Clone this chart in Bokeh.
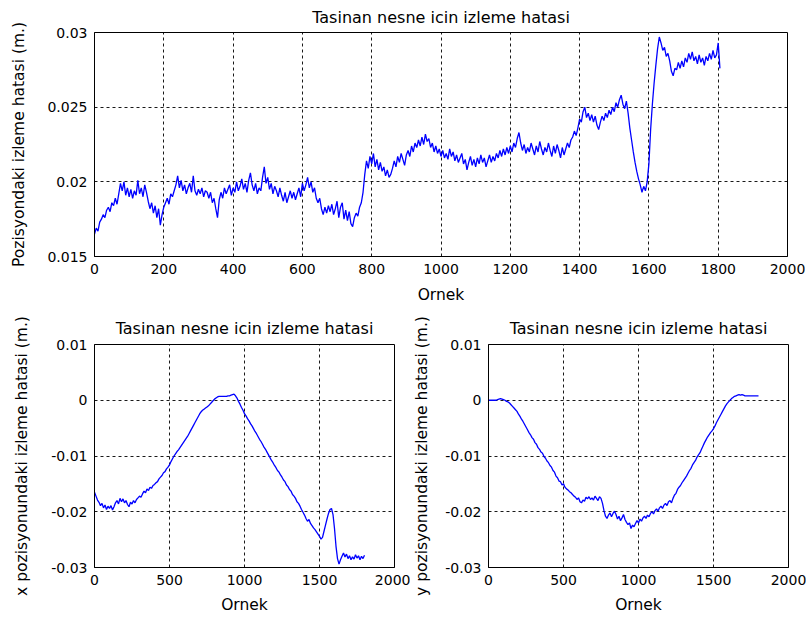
from bokeh.plotting import figure
from bokeh.layouts import column, row
from bokeh.models import Range1d, FixedTicker, CustomJSTickFormatter
from bokeh.embed import file_html
from bokeh.resources import INLINE

# ---------------- data ----------------
title_text = "Tasinan nesne icin izleme hatasi"
x_label = "Ornek"
top_ylabel = "Pozisyondaki izleme hatasi (m.)"
bl_ylabel = "x pozisyonundaki izleme hatasi (m.)"
br_ylabel = "y pozisyonundaki izleme hatasi (m.)"

top_x_ticks = [0, 200, 400, 600, 800, 1000, 1200, 1400, 1600, 1800, 2000]
top_y_ticks = [0.015, 0.02, 0.025, 0.03]
bot_x_ticks = [0, 500, 1000, 1500, 2000]
bot_y_ticks = [-0.03, -0.02, -0.01, 0, 0.01]

top_step = 5
top_err = [
    0.0165, 0.0169, 0.0167, 0.0173, 0.0175, 0.0178, 0.0176, 0.0181, 0.0183, 0.0180, 0.0186, 0.0184, 0.0189, 0.0185, 0.0192, 0.0199,
    0.0194, 0.0200, 0.0191, 0.0196, 0.0190, 0.0195, 0.0189, 0.0194, 0.0191, 0.0201, 0.0192, 0.0196, 0.0190, 0.0198, 0.0193,
    0.0187, 0.0182, 0.0186, 0.0179, 0.0184, 0.0176, 0.0182, 0.0171, 0.0178, 0.0183,
    0.0186, 0.0189, 0.0185, 0.0192, 0.0190, 0.0194, 0.0198, 0.0204, 0.0196, 0.0201, 0.0194, 0.0198,
    0.0192, 0.0196, 0.0199, 0.0193, 0.0204, 0.0194, 0.0191, 0.0195, 0.0192, 0.0196, 0.0190, 0.0194, 0.0193, 0.0189, 0.0193, 0.0186, 0.0189, 0.0182,
    0.0176, 0.0188, 0.0193, 0.0189, 0.0196, 0.0192, 0.0195, 0.0198, 0.0191, 0.0196, 0.0193, 0.0200, 0.0194, 0.0197, 0.0202, 0.0195, 0.0199, 0.0193, 0.0201, 0.0206,
    0.0198, 0.0194, 0.0199, 0.0192, 0.0196, 0.0194, 0.0203, 0.0210, 0.0199, 0.0203,
    0.0195, 0.0199, 0.0192, 0.0197, 0.0194, 0.0190, 0.0196, 0.0191, 0.0187, 0.0193, 0.0186, 0.0190, 0.0194, 0.0189, 0.0193, 0.0188, 0.0192, 0.0196, 0.0190, 0.0199,
    0.0194, 0.0198, 0.0203, 0.0196, 0.0200, 0.0193, 0.0196, 0.0189, 0.0186, 0.0189, 0.0182, 0.0178, 0.0183, 0.0179, 0.0184, 0.0180,
    0.0185, 0.0178, 0.0182, 0.0187, 0.0176, 0.0183, 0.0186, 0.0175, 0.0181, 0.0174, 0.0180, 0.0172, 0.0170, 0.0176, 0.0179, 0.0177, 0.0183, 0.0186,
    0.0193, 0.0205, 0.0214, 0.0209, 0.0217, 0.0212,
    0.0219, 0.0210, 0.0215, 0.0208, 0.0213, 0.0207, 0.0210, 0.0204, 0.0208, 0.0203, 0.0205, 0.0209,
    0.0214, 0.0210, 0.0217, 0.0213, 0.0219, 0.0215, 0.0211, 0.0218, 0.0221, 0.0217, 0.0224, 0.0220, 0.0226, 0.0223, 0.0228, 0.0224, 0.0230, 0.0225,
    0.0232, 0.0227, 0.0229, 0.0223, 0.0226, 0.0220, 0.0224, 0.0219, 0.0222, 0.0217,
    0.0221, 0.0216, 0.0219, 0.0215, 0.0222, 0.0217, 0.0220, 0.0214, 0.0218, 0.0213, 0.0216, 0.0219, 0.0212, 0.0215, 0.0208, 0.0213, 0.0217, 0.0211, 0.0215, 0.0210,
    0.0216, 0.0212, 0.0218, 0.0213, 0.0216, 0.0210, 0.0214, 0.0218, 0.0213, 0.0217, 0.0214, 0.0219, 0.0216, 0.0221, 0.0217, 0.0222, 0.0218, 0.0223, 0.0219, 0.0224,
    0.0220, 0.0226, 0.0223, 0.0229, 0.0233, 0.0226,
    0.0221, 0.0225, 0.0219, 0.0223, 0.0220, 0.0226, 0.0222, 0.0218, 0.0224, 0.0220, 0.0227, 0.0222, 0.0218, 0.0223, 0.0220, 0.0226, 0.0221, 0.0217, 0.0224, 0.0219, 0.0225, 0.0221, 0.0216, 0.0223, 0.0218, 0.0222, 0.0226, 0.0223, 0.0228, 0.0230,
    0.0234, 0.0231, 0.0236, 0.0242, 0.0240, 0.0247, 0.0250, 0.0243, 0.0246, 0.0241, 0.0245, 0.0240, 0.0244, 0.0238, 0.0235, 0.0240,
    0.0244, 0.0241, 0.0246, 0.0243, 0.0248, 0.0245, 0.0250, 0.0247, 0.0253, 0.0250, 0.0255, 0.0258, 0.0252, 0.0249, 0.0254, 0.0246,
    0.0236, 0.0228, 0.0220, 0.0213, 0.0207, 0.0202, 0.0198, 0.0193, 0.0197, 0.0194, 0.0200, 0.0212,
    0.0235, 0.0252, 0.0266, 0.0278, 0.0289, 0.0297, 0.0293, 0.0288,
    0.0290, 0.0284, 0.0286, 0.0281, 0.0274, 0.0271, 0.0276, 0.0275, 0.0280, 0.0276, 0.0281, 0.0277,
    0.0283, 0.0280, 0.0286, 0.0282, 0.0287, 0.0281, 0.0284, 0.0279, 0.0285, 0.0280, 0.0283, 0.0278, 0.0284, 0.0281, 0.0286, 0.0282, 0.0288, 0.0283, 0.0285, 0.0293, 0.0276,
]

bot_step = 10
x_err = [
    -0.0165, -0.0172, -0.0179, -0.0183, -0.0189, -0.0185, -0.0193, -0.0188, -0.0196, -0.0190,
    -0.0194, -0.0189, -0.0197, -0.0191, -0.0184, -0.0180, -0.0186, -0.0176, -0.0182, -0.0177,
    -0.0184, -0.0180, -0.0187, -0.0191, -0.0183, -0.0186, -0.0180, -0.0184, -0.0178, -0.0175,
    -0.0172, -0.0174, -0.0168, -0.0163, -0.0166, -0.0159, -0.0162, -0.0156, -0.0158, -0.0153,
    -0.0151, -0.0148, -0.0146, -0.0141, -0.0138, -0.0135, -0.0130, -0.0128, -0.0123, -0.0120,
    -0.0116, -0.0110, -0.0105, -0.0100, -0.0096, -0.0092, -0.0089, -0.0085, -0.0081, -0.0077,
    -0.0073, -0.0069, -0.0065, -0.0060, -0.0055, -0.0050, -0.0045, -0.0040, -0.0035, -0.0030,
    -0.0025, -0.0021, -0.0018, -0.0016, -0.0014, -0.0012, -0.0010, -0.0007, -0.0004, -0.0001,
    0.0002, 0.0004, 0.0006, 0.0007, 0.0007, 0.0007, 0.0007, 0.0007, 0.0007, 0.0008,
    0.0008, 0.0009, 0.0010, 0.0011, 0.0008, 0.0004, -0.0002, -0.0007, -0.0013, -0.0018,
    -0.0024, -0.0028, -0.0033, -0.0037, -0.0042, -0.0046, -0.0051, -0.0056, -0.0060, -0.0065,
    -0.0070, -0.0074, -0.0079, -0.0084, -0.0088, -0.0093, -0.0098, -0.0103, -0.0108, -0.0112,
    -0.0117, -0.0121, -0.0126, -0.0129, -0.0134, -0.0138, -0.0143, -0.0146, -0.0152, -0.0155,
    -0.0160, -0.0163, -0.0169, -0.0172, -0.0176, -0.0182, -0.0185, -0.0190, -0.0196, -0.0201,
    -0.0206, -0.0212, -0.0217, -0.0214, -0.0221, -0.0225, -0.0229, -0.0232, -0.0236, -0.0240,
    -0.0244, -0.0249, -0.0246, -0.0235, -0.0224, -0.0213, -0.0203, -0.0196, -0.0194, -0.0205,
    -0.0230, -0.0262, -0.0284, -0.0294, -0.0286, -0.0280, -0.0274, -0.0281, -0.0276, -0.0284,
    -0.0279, -0.0286, -0.0281, -0.0285, -0.0277, -0.0283, -0.0279, -0.0286, -0.0280, -0.0284,
    -0.0278,
]

y_err = [
    0.0000, 0.0000, 0.0000, 0.0000, 0.0000, 0.0000, 0.0001, 0.0002, 0.0003, 0.0002,
    0.0001, 0.0000, -0.0002, -0.0003, -0.0005, -0.0008, -0.0011, -0.0014, -0.0017, -0.0020,
    -0.0025, -0.0029, -0.0034, -0.0038, -0.0043, -0.0048, -0.0053, -0.0058, -0.0062, -0.0067,
    -0.0070, -0.0076, -0.0079, -0.0085, -0.0088, -0.0093, -0.0095, -0.0101, -0.0104, -0.0109,
    -0.0112, -0.0117, -0.0120, -0.0126, -0.0129, -0.0136, -0.0139, -0.0145, -0.0146, -0.0152,
    -0.0150, -0.0156, -0.0159, -0.0161, -0.0164, -0.0166, -0.0169, -0.0172, -0.0174, -0.0178,
    -0.0175, -0.0182, -0.0184, -0.0179, -0.0181, -0.0174, -0.0177, -0.0173, -0.0178, -0.0175,
    -0.0179, -0.0172, -0.0176, -0.0180, -0.0173, -0.0176, -0.0185, -0.0198, -0.0208, -0.0212,
    -0.0206, -0.0202, -0.0209, -0.0203, -0.0199, -0.0205, -0.0213, -0.0208, -0.0216, -0.0211,
    -0.0205, -0.0214, -0.0219, -0.0223, -0.0220, -0.0230, -0.0224, -0.0227, -0.0221, -0.0216,
    -0.0220, -0.0213, -0.0217, -0.0211, -0.0208, -0.0212, -0.0206, -0.0209, -0.0203, -0.0200,
    -0.0204, -0.0198, -0.0195, -0.0199, -0.0193, -0.0190, -0.0194, -0.0188, -0.0185, -0.0189,
    -0.0182, -0.0180, -0.0184, -0.0176, -0.0170, -0.0167, -0.0160, -0.0156, -0.0153, -0.0148,
    -0.0144, -0.0140, -0.0136, -0.0131, -0.0126, -0.0122, -0.0116, -0.0112, -0.0108, -0.0102,
    -0.0098, -0.0094, -0.0088, -0.0082, -0.0076, -0.0071, -0.0066, -0.0062, -0.0058, -0.0055,
    -0.0051, -0.0046, -0.0040, -0.0035, -0.0030, -0.0025, -0.0020, -0.0015, -0.0010, -0.0006,
    -0.0003, 0.0000, 0.0003, 0.0005, 0.0007, 0.0008, 0.0009, 0.0010, 0.0009, 0.0010,
    0.0009, 0.0008, 0.0008, 0.0008, 0.0008, 0.0008, 0.0008, 0.0008, 0.0008, 0.0008,
    0.0008,
]

# ---------------- styling ----------------
FONT = "DejaVu Sans"
LINE_COLOR = "#0000FF"

fmt_code = "return String(parseFloat(tick.toFixed(6)));"


def make_fig(fw, fh, bl, br, bt, bb, xr, yr, xt, yt, ylabel,
             title_standoff, ylabel_standoff, xlabel_standoff):
    p = figure(
        frame_width=fw, frame_height=fh,
        min_border_left=bl, min_border_right=br, min_border_top=bt, min_border_bottom=bb,
        x_range=Range1d(*xr), y_range=Range1d(*yr),
        output_backend="svg", toolbar_location=None, title=title_text,
    )
    p.title.align = "center"
    p.title.text_font = FONT
    p.title.text_font_size = "16px"
    p.title.text_font_style = "normal"
    p.title.text_color = "black"
    p.title.standoff = title_standoff

    p.outline_line_color = "black"
    p.outline_line_alpha = 1.0
    p.outline_line_width = 1
    p.background_fill_color = "white"
    p.border_fill_color = "white"

    p.xaxis.ticker = FixedTicker(ticks=xt)
    p.yaxis.ticker = FixedTicker(ticks=yt)
    p.yaxis.formatter = CustomJSTickFormatter(code=fmt_code)
    p.xaxis.formatter = CustomJSTickFormatter(code=fmt_code)

    for ax in (p.xaxis, p.yaxis):
        ax.axis_line_color = "black"
        ax.major_tick_line_color = None
        ax.minor_tick_line_color = None
        ax.major_tick_out = 0
        ax.major_label_standoff = 7
        ax.major_label_text_font = FONT
        ax.major_label_text_font_size = "14px"
        ax.major_label_text_color = "black"
        ax.axis_label_text_font = FONT
        ax.axis_label_text_font_size = "15.5px"
        ax.axis_label_text_font_style = "normal"
        ax.axis_label_text_color = "black"

    p.xaxis.axis_label = x_label
    p.xaxis.axis_label_standoff = xlabel_standoff
    p.yaxis.axis_label = ylabel
    p.yaxis.axis_label_standoff = ylabel_standoff

    p.grid.grid_line_color = "black"
    p.grid.grid_line_dash = "3 3"
    p.grid.grid_line_width = 1
    p.grid.grid_line_alpha = 0.9
    return p


top = make_fig(693, 224, 94, 18, 32, 50, (0, 2000), (0.015, 0.03),
               top_x_ticks, top_y_ticks, top_ylabel, 11, 16, 9)
top_x = list(range(0, top_step * len(top_err), top_step))
top.line(top_x, top_err, line_color=LINE_COLOR, line_width=1.3)

bl = make_fig(300, 223, 94, 16, 38, 48, (0, 2000), (-0.03, 0.01),
              bot_x_ticks, bot_y_ticks, bl_ylabel, 14, 17, 8)
bot_x = list(range(0, bot_step * len(x_err), bot_step))
bl.line(bot_x, x_err, line_color=LINE_COLOR, line_width=1.3)

br = make_fig(300, 223, 78, 18, 38, 48, (0, 2000), (-0.03, 0.01),
              bot_x_ticks, bot_y_ticks, br_ylabel, 14, 11, 8)
br.line(bot_x, y_err, line_color=LINE_COLOR, line_width=1.3)

layout = column(top, row(bl, br))

with open("out.html", "w") as f:
    f.write(file_html(layout, INLINE))
